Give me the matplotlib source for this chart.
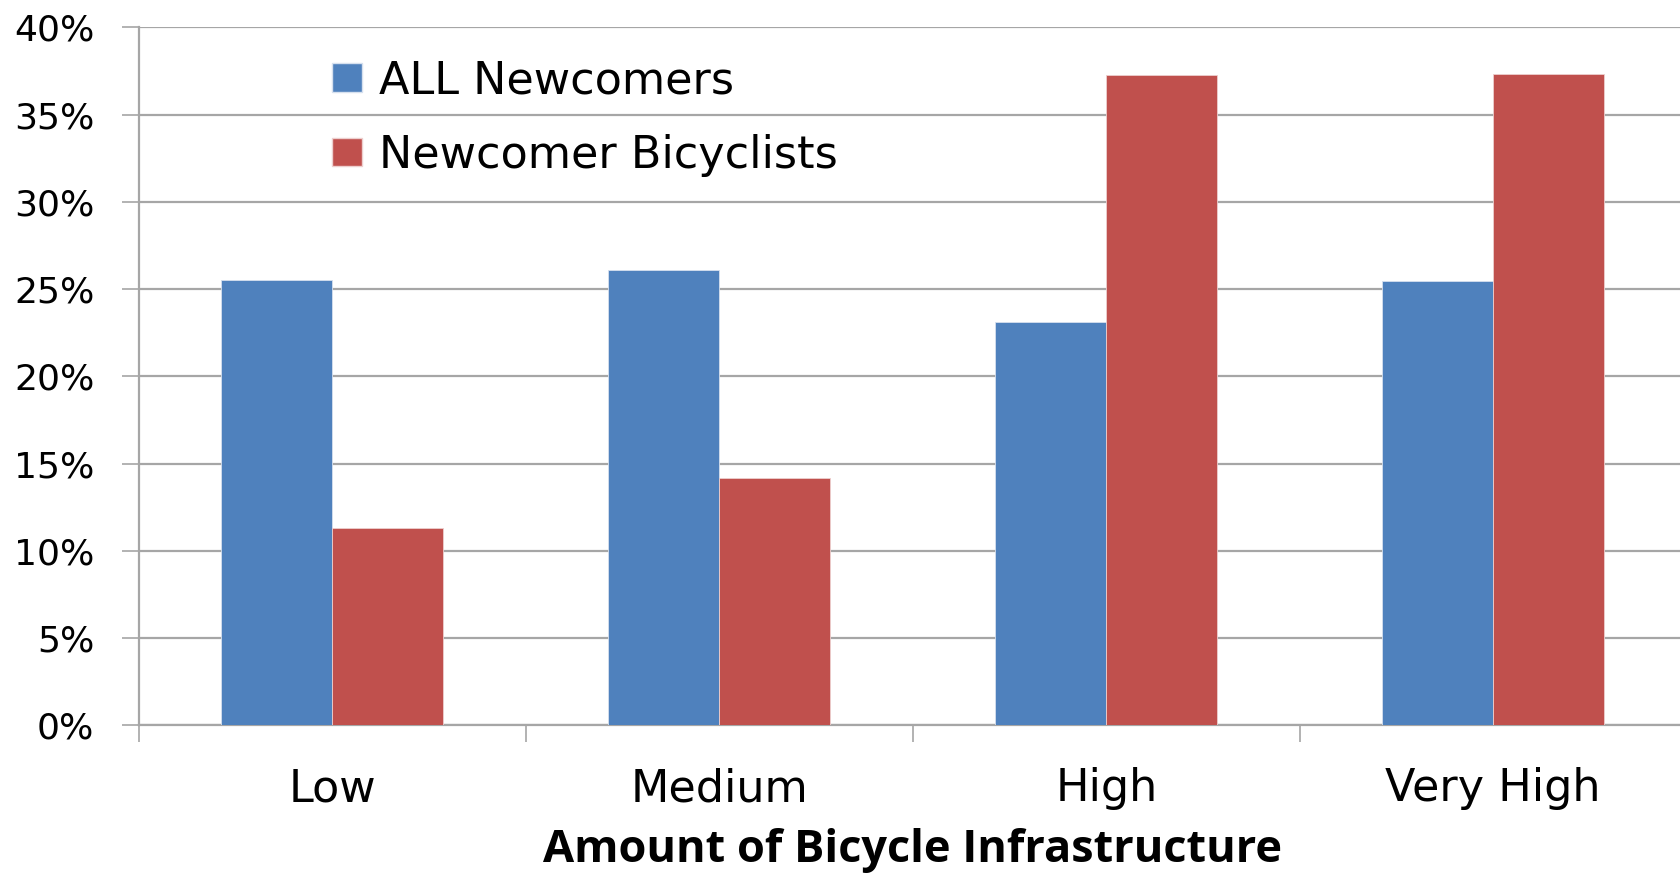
import numpy as np
import matplotlib.pyplot as plt
from matplotlib.patches import Patch
from matplotlib.ticker import FixedLocator, FuncFormatter

plt.rcParams['font.family'] = ['DejaVu Sans']

# Share of people moving to each area, by amount of bike infrastructure
categories = ['Low', 'Medium', 'High', 'Very High']
all_newcomers = [25.5, 26.1, 23.1, 25.45]
newcomer_bicyclists = [11.3, 14.2, 37.25, 37.3]
series_names = ['ALL Newcomers', 'Newcomer Bicyclists']
y_ticks = [0, 5, 10, 15, 20, 25, 30, 35, 40]

blue = '#4F81BD'
red = '#C0504D'
grid_gray = '#A6A6A6'

fig = plt.figure(figsize=(16.8, 8.75), dpi=100)
ax = fig.add_axes([0.0827, 0.1709, 0.9213, 0.7979])

x = np.arange(len(categories))
w = 0.287
ax.bar(x - w / 2, all_newcomers, w, color=blue, edgecolor='#D6E0EE', linewidth=0.6, zorder=3)
ax.bar(x + w / 2, newcomer_bicyclists, w, color=red, edgecolor='#EDCFCE', linewidth=0.6, zorder=3)

ax.set_xlim(-0.5, len(categories) - 0.5)
ax.set_ylim(0, 40)

# y axis: percent labels, gridlines
ax.set_yticks(y_ticks)
ax.yaxis.set_major_formatter(FuncFormatter(lambda v, p: f'{int(v)}%'))
ax.yaxis.grid(True, color=grid_gray, linewidth=1.6, zorder=0)
ax.tick_params(axis='y', length=12, width=1.2, color=grid_gray, pad=20,
               labelsize=26, labelcolor='black')

# x axis: tick marks between groups, labels at group centres
ax.xaxis.set_major_locator(FixedLocator(np.arange(len(categories) + 1) - 0.5))
ax.xaxis.set_major_formatter(FuncFormatter(lambda v, p: ''))
ax.xaxis.set_minor_locator(FixedLocator(x))
ax.set_xticklabels(categories, minor=True)
ax.tick_params(axis='x', which='major', length=12, width=1.2, color=grid_gray)
ax.tick_params(axis='x', which='minor', length=0, pad=30, labelsize=32, labelcolor='black')

for side in ['top', 'right']:
    ax.spines[side].set_visible(False)
ax.spines['left'].set_color(grid_gray)
ax.spines['left'].set_linewidth(1.6)
ax.spines['bottom'].set_color(grid_gray)
ax.spines['bottom'].set_linewidth(1.6)
ax.set_axisbelow(True)

ax.set_xlabel('Amount of Bicycle Infrastructure', fontsize=32.5, fontweight='bold',
              family=['Open Sans', 'DejaVu Sans'])
ax.xaxis.set_label_coords(0.5, -0.1956)
ax.xaxis.label.set_va('baseline')

handles = [Patch(facecolor=blue, edgecolor='#D6E0EE'), Patch(facecolor=red, edgecolor='#EDCFCE')]
fig.legend(handles, series_names, loc='upper left', bbox_to_anchor=(332 / 1680, 0.932),
           frameon=False, fontsize=32, handlelength=0.68, handleheight=0.62,
           handletextpad=0.38, labelspacing=0.7, borderpad=0, borderaxespad=0)

fig.savefig('out.png', dpi=100)
